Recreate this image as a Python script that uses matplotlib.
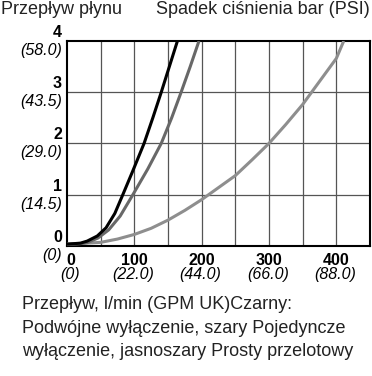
import matplotlib
matplotlib.use("Agg")
import matplotlib.pyplot as plt
from matplotlib.transforms import offset_copy, blended_transform_factory

plt.rcParams['font.family'] = ['Liberation Sans', 'DejaVu Sans']

# ---- data ----
black_q = [0, 20, 30, 45, 58, 71, 83, 98, 114.5, 127.5, 140, 152, 164]
black_dp = [0.03, 0.05, 0.09, 0.19, 0.35, 0.63, 1.0, 1.47, 2.0, 2.5, 3.0, 3.5, 4.0]
dgrey_q = [0, 20, 30, 46, 62, 79, 98, 120, 140, 155.5, 169.5, 183, 196]
dgrey_dp = [0.03, 0.04, 0.06, 0.15, 0.31, 0.58, 1.0, 1.5, 2.0, 2.5, 3.0, 3.5, 4.0]
lgrey_q = [0, 50, 75, 100, 125, 150, 175, 200, 250, 275, 300, 325, 350, 375, 400, 411]
lgrey_dp = [0.03, 0.065, 0.13, 0.22, 0.34, 0.5, 0.69, 0.9, 1.37, 1.68, 2.0, 2.37, 2.76, 3.21, 3.66, 4.0]

x_ticks = [0, 100, 200, 300, 400]
x_tick_gpm = ["(0)", "(22.0)", "(44.0)", "(66.0)", "(88.0)"]
y_ticks = [0, 1, 2, 3, 4]
y_tick_psi = ["(0)", "(14.5)", "(29.0)", "(43.5)", "(58.0)"]
x_grid = [50, 100, 150, 200, 250, 300, 350, 400]
y_grid = [1, 2, 3]

title_left = "Przepływ płynu"
title_right = "Spadek ciśnienia bar (PSI)"
caption_lines = ["Przepływ, l/min (GPM UK)Czarny:",
                 "Podwójne wyłączenie, szary Pojedyncze",
                 "wyłączenie, jasnoszary Prosty przelotowy"]

W, H = 372, 376
fig = plt.figure(figsize=(W / 100, H / 100), dpi=100)
fig.patch.set_facecolor('white')
ax = fig.add_axes([67 / W, 1 - 245.7 / H, (370 - 67) / W, (245.7 - 41) / H])
ax.set_xlim(0, 450)
ax.set_ylim(0, 4)

for gx in x_grid:
    ax.axvline(gx, color='#555555', lw=0.9, zorder=1)
for gy in y_grid:
    ax.axhline(gy, color='#555555', lw=0.9, zorder=1)

ax.plot(lgrey_q, lgrey_dp, color='#8e8e8e', lw=2.2, zorder=3, solid_capstyle='butt')
ax.plot(dgrey_q, dgrey_dp, color='#686868', lw=2.2, zorder=4, solid_capstyle='butt')
ax.plot(black_q, black_dp, color='#000000', lw=2.2, zorder=5, solid_capstyle='butt')

for s in ax.spines.values():
    s.set_linewidth(1.5)
    s.set_color('black')
ax.set_xticks([])
ax.set_yticks([])

# y tick labels
ty = blended_transform_factory(ax.transAxes, ax.transData)
for v, lab in zip(y_ticks, y_tick_psi):
    tb = offset_copy(ty, fig=fig, x=-5, y=1, units='dots')
    ax.text(0, v, str(v), transform=tb, ha='right', va='bottom',
            fontsize=11.5, fontweight='bold', clip_on=False)
    ti = offset_copy(ty, fig=fig, x=-5, y=-2, units='dots')
    ax.text(0, v, lab, transform=ti, ha='right', va='top',
            fontsize=11.5, fontstyle='italic', clip_on=False)

# x tick labels
tx = blended_transform_factory(ax.transData, ax.transAxes)
for v, lab in zip(x_ticks, x_tick_gpm):
    dx = 4 if v == 0 else 0
    tb = offset_copy(tx, fig=fig, x=dx, y=-7, units='dots')
    ax.text(v, 0, str(v), transform=tb, ha='center', va='top',
            fontsize=11.5, fontweight='bold', clip_on=False)
    ti = offset_copy(tx, fig=fig, x=dx - 1, y=-21, units='dots')
    ax.text(v, 0, lab, transform=ti, ha='center', va='top',
            fontsize=11.5, fontstyle='italic', clip_on=False)

fig.text(1 / W, 1 - 1.5 / H, title_left, ha='left', va='top', fontsize=13, color='#222222')
fig.text(370 / W, 1 - 1.5 / H, title_right, ha='right', va='top', fontsize=13, color='#222222')

baselines = [309, 332.7, 355.5]
for line, b in zip(caption_lines, baselines):
    fig.text(21.7 / W, 1 - b / H, line, ha='left', va='baseline', fontsize=13, color='#222222')

fig.savefig('out.png', dpi=100, facecolor='white')
